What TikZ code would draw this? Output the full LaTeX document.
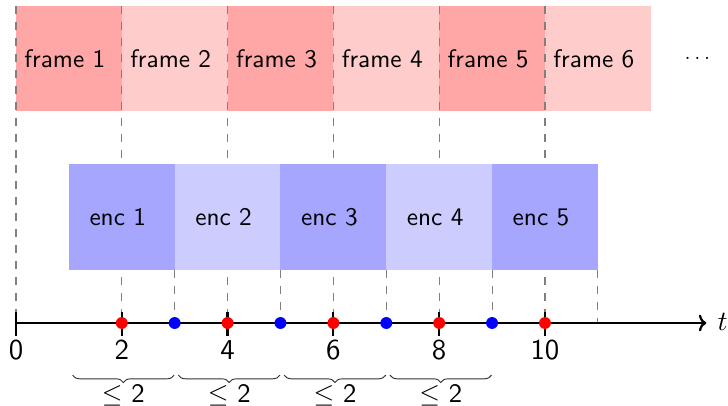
\documentclass[tikz,border=0pt]{standalone}
\usepackage{fontspec}
\setsansfont{lmsans10-regular.otf}
\usetikzlibrary{decorations.pathreplacing,arrows.meta}
\begin{document}
\begin{tikzpicture}[x=1cm,y=1cm,
  block/.style={minimum width=2cm,minimum height=2cm,inner sep=0pt,outer sep=0pt,
    font=\fontsize{13.6}{16}\selectfont\sffamily,
    execute at end node={\hspace*{0.15cm}}},
  framedark/.style={block,fill=red!35},
  framelight/.style={block,fill=red!20},
  encdark/.style={block,fill=blue!35},
  enclight/.style={block,fill=blue!20},
  guide/.style={gray,line width=0.6pt,dash pattern=on 4.3pt off 4.3pt},
  axisline/.style={line width=1.2pt,-{To[length=4pt,width=9pt]}},
  tickmark/.style={line width=1.2pt},
  dotmark/.style={circle,inner sep=0pt,minimum size=6.4pt},
  numlabel/.style={inner sep=0pt,font=\fontsize{15.5}{18}\selectfont\sffamily},
  bracemark/.style={black!80,line width=0.5pt,decorate,decoration={brace,mirror,amplitude=4pt}},
]
\useasboundingbox (-0.302,-1.55) rectangle (13.46,6.106);

% video frames
\node[framedark]  (f1) at (1,5)  {frame 1};
\node[framelight] (f2) at (3,5)  {frame 2};
\node[framedark]  (f3) at (5,5)  {frame 3};
\node[framelight] (f4) at (7,5)  {frame 4};
\node[framedark]  (f5) at (9,5)  {frame 5};
\node[framelight] (f6) at (11,5) {frame 6};
\node[inner sep=0pt,font=\fontsize{11.5}{14}\selectfont] (more) at (12.88,5) {$\ldots$};

% time axis points
\coordinate (o) at (0,0);
\coordinate (tend) at (13.05,0);
\foreach \k in {0,...,11} { \coordinate (p\k) at (\k,0); }

% guides from frame boundaries to the axis
\foreach \i/\k in {1/0,2/2,3/4,4/6,5/8,6/10} {
  \draw[guide] (f\i.north west) -- (p\k);
}

% encodings
\node[encdark]  (e1) at (2,2)  {enc 1};
\node[enclight] (e2) at (4,2)  {enc 2};
\node[encdark]  (e3) at (6,2)  {enc 3};
\node[enclight] (e4) at (8,2)  {enc 4};
\node[encdark]  (e5) at (10,2) {enc 5};

% guides from encoding ends to the axis
\foreach \i/\k in {1/3,2/5,3/7,4/9,5/11} {
  \draw[guide] (e\i.south east) -- (p\k);
}

% axis
\draw[axisline] (o) -- (tend);
\node[inner sep=0pt,anchor=center] (tlab) at (13.36,0.02) {\scalebox{1.5}{$t$}};

% ticks and labels
\foreach \k in {0,2,4,6,8,10} {
  \draw[tickmark] ([yshift=0.2cm]p\k) -- ([yshift=-0.24cm]p\k);
  \node[numlabel] (n\k) at (\k,-0.51) {\k};
}

% frame arrivals and encoding completions
\foreach \k in {2,4,6,8,10} { \node[dotmark,fill=red] (r\k) at (p\k) {}; }
\foreach \k in {3,5,7,9} { \node[dotmark,fill=blue] (b\k) at (p\k) {}; }

% latency braces
\foreach \j/\a in {1/1,2/3,3/5,4/7} {
  \coordinate (bl\j) at (\a+0.07,-0.985);
  \coordinate (br\j) at (\a+1.99,-0.985);
  \draw[bracemark] (bl\j) -- (br\j);
  \node[inner sep=0pt,font=\sffamily] (lat\j) at (\a+1.03,-1.36) {\scalebox{1.43}{$\leq$ 2}};
}
\end{tikzpicture}
\end{document}
